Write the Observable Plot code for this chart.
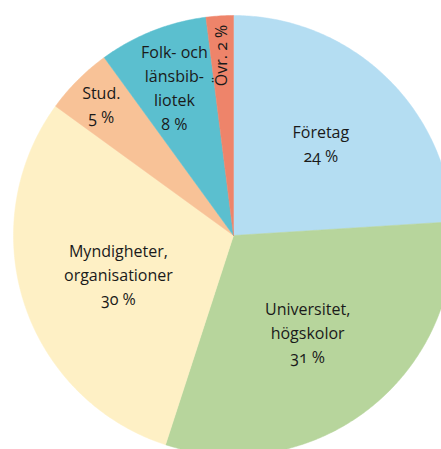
<!DOCTYPE html>
<html>
<head>
<meta charset="utf-8">
<script src="https://cdn.jsdelivr.net/npm/d3@7"></script>
<script src="https://cdn.jsdelivr.net/npm/@observablehq/plot@0.6"></script>
<style>
  html, body { margin: 0; padding: 0; background: #fff; overflow: hidden; }
  #chart svg { overflow: hidden; }
</style>
</head>
<body>
<div id="chart"></div>
<script>
// Data
const categories = ["Företag", "Universitet, högskolor", "Myndigheter, organisationer", "Stud.", "Folk- och länsbibliotek", "Övr."];
const labels = ["Företag", "Universitet,\nhögskolor", "Myndigheter,\norganisationer", "Stud.", "Folk- och\nlänsbib-\nliotek", "Övr."];
const shares = [24, 31, 30, 5, 8, 2];
const colors = ["#b4ddf2", "#b7d59c", "#fef0c5", "#f8c297", "#5bbfcf", "#ee846a"];

// Layout (not data)
const W = 441, H = 449;
const labelRadius = {0: 0.58, 1: 0.55, 2: 0.55, 3: 0.85, 4: 0.73, 5: 0.82};

const pie = d3.pie().sort(null).value(d => d)(shares);

// Build polygons in unit coordinates (angle clockwise from top)
const poly = [];
pie.forEach((p, i) => {
  const n = Math.max(2, Math.ceil((p.endAngle - p.startAngle) / 0.01));
  poly.push({i, x: 0, y: 0});
  for (let k = 0; k <= n; k++) {
    const a = p.startAngle + (p.endAngle - p.startAngle) * k / n;
    poly.push({i, x: Math.sin(a), y: Math.cos(a)});
  }
  poly.push({i, x: 0, y: 0});
});

const textData = pie.map((p, i) => {
  const a = (p.startAngle + p.endAngle) / 2;
  const r = labelRadius[i];
  const pct = `${shares[i]} %`;
  return {
    i,
    x: r * Math.sin(a),
    y: r * Math.cos(a),
    text: i === 5 ? `${labels[i]} ${pct}` : `${labels[i]}\n${pct}`,
    rotate: i === 5 ? -90 : 0
  };
});

const chart = Plot.plot({
  width: W,
  height: H,
  margin: 0,
  x: {domain: [-1, 1], range: [13, 453], axis: null},
  y: {domain: [-1, 1], range: [455, 15], axis: null},
  style: {fontFamily: "'Open Sans', Lato, sans-serif", background: "#fff"},
  marks: [
    Plot.line(poly, {x: "x", y: "y", z: "i", fill: d => colors[d.i], stroke: d => colors[d.i], strokeWidth: 0.5, curve: "linear"}),
    Plot.text(textData.filter(d => d.rotate === 0), {x: "x", y: "y", text: "text", fontSize: 16, lineHeight: 1.5, fill: "#1a1a1a", textAnchor: "middle"}),
    Plot.text(textData.filter(d => d.rotate !== 0), {x: "x", y: "y", text: "text", fontSize: 16, rotate: -90, fill: "#1a1a1a", textAnchor: "middle"})
  ]
});
chart.style.fontVariantNumeric = "oldstyle-nums";
document.getElementById("chart").appendChild(chart);
</script>
</body>
</html>
